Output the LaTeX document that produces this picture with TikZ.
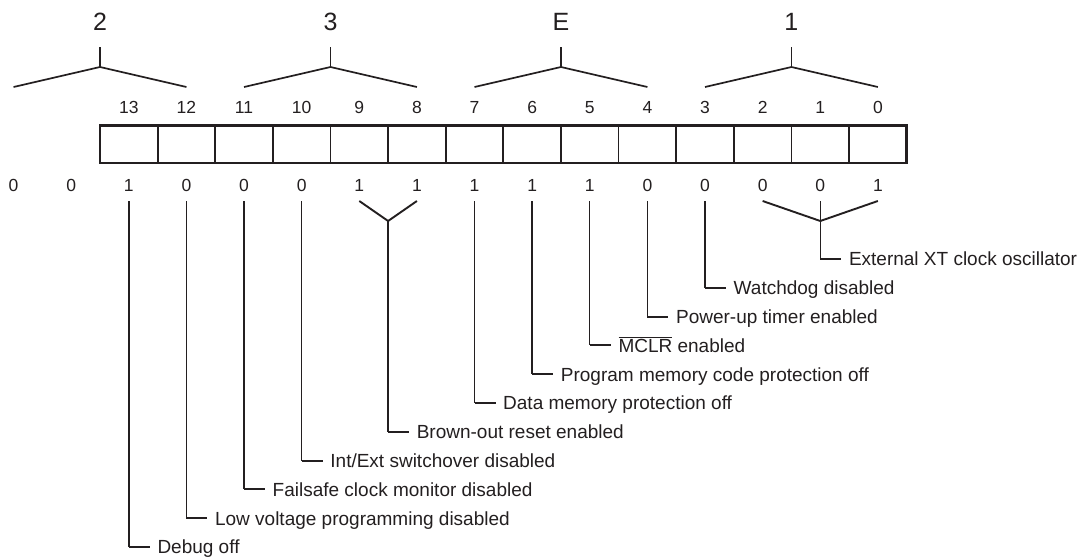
\documentclass[tikz,border=0pt]{standalone}
\usepackage{fontspec}
\setmainfont{Liberation Sans}
\definecolor{ink}{RGB}{35,31,32}
\tikzset{
  cell/.style={draw=ink, line width=1.8pt, minimum width=57.62pt, minimum height=37.3pt, inner sep=0pt, outer sep=0pt},
  frame/.style={draw=ink, line width=2.8pt},
  bitnum/.style={text=ink, font=\fontsize{17.5}{20}\selectfont, inner sep=0pt, text height=12.5pt, text depth=0pt},
  nib/.style={text=ink, font=\fontsize{25}{28}\selectfont, inner sep=0pt, text height=17.9pt, text depth=0pt},
  lab/.style={text=ink, font=\fontsize{19}{22}\selectfont, anchor=west, inner xsep=7.5pt, inner ysep=0pt, text height=13.6pt, text depth=0pt},
  stem/.style={draw=ink, line width=1.4pt},
  tick/.style={draw=ink, line width=2pt},
  yarm/.style={draw=ink, line width=1.9pt},
  brace/.style={draw=ink, line width=1.7pt}
}
\begin{document}
\begin{tikzpicture}[x=1pt, y=-1pt]
\useasboundingbox (0,0) rectangle (1084,557);

% register cells, bit numbers, values
\foreach \b/\v in {13/1,12/0,11/0,10/0,9/1,8/1,7/1,6/1,5/1,4/0,3/0,2/0,1/0,0/1} {
  \pgfmathsetmacro\cx{100+(13.5-\b)*57.62}
  \node[cell] (c\b) at (\cx,144.35) {};
  \node[bitnum] (b\b) at (\cx,107.5) {\b};
  \node[bitnum] (v\b) at (\cx,185) {\v};
  \coordinate (s\b) at (\cx,201);
}
\draw[frame] (c13.north west) rectangle (c0.south east);
\node[bitnum] (v15) at (13.6,185) {0};
\node[bitnum] (v14) at (71.2,185) {0};

% nibble braces
\foreach \n/\cx in {2/100, 3/330.48, E/560.96, 1/791.44} {
  \node[nib] (n\n) at (\cx,21.5) {\n};
  \coordinate (t\n) at (\cx,47);
  \coordinate (a\n) at (\cx,67);
  \coordinate (l\n) at (\cx-86.43,87);
  \coordinate (r\n) at (\cx+86.43,87);
  \draw[brace] (t\n) -- (a\n);
  \draw[brace] (l\n) -- (a\n) -- (r\n);
}

% labels for single bits
\node[lab] (L13) at (149.8,547.0) {Debug off};
\node[lab] (L12) at (207.4,518.2) {Low voltage programming disabled};
\node[lab] (L11) at (265.0,489.4) {Failsafe clock monitor disabled};
\node[lab] (L10) at (322.7,460.6) {Int/Ext switchover disabled};
\node[lab] (L7)  at (495.5,403.0) {Data memory protection off};
\node[lab] (L6)  at (553.2,374.2) {Program memory code protection off};
\node[lab] (L5)  at (610.8,345.4) {$\overline{\mbox{MCLR}}$ enabled};
\node[lab] (L4)  at (668.4,316.6) {Power-up timer enabled};
\node[lab] (L3)  at (726.0,287.8) {Watchdog disabled};

\foreach \b in {13,12,11,10,7,6,5,4,3} {
  \draw[stem] (s\b) -- (s\b |- L\b.west);
  \draw[tick] (s\b |- L\b.west) -- (L\b.west);
}

% bits 9,8 joined
\coordinate (j98) at (388.1,221);
\node[lab] (L98) at (409.1,431.8) {Brown-out reset enabled};
\draw[yarm] (s9) -- (j98) -- (s8);
\draw[stem] (j98) -- (j98 |- L98.west);
\draw[tick] (j98 |- L98.west) -- (L98.west);

% bits 2,1,0 joined
\coordinate (j210) at (820.3,221);
\node[lab] (L210) at (841.3,259.0) {External XT clock oscillator};
\draw[yarm] (s2) -- (j210) -- (s0);
\draw[stem] (s1) -- (s1 |- L210.west);
\draw[tick] (s1 |- L210.west) -- (L210.west);
\end{tikzpicture}
\end{document}
